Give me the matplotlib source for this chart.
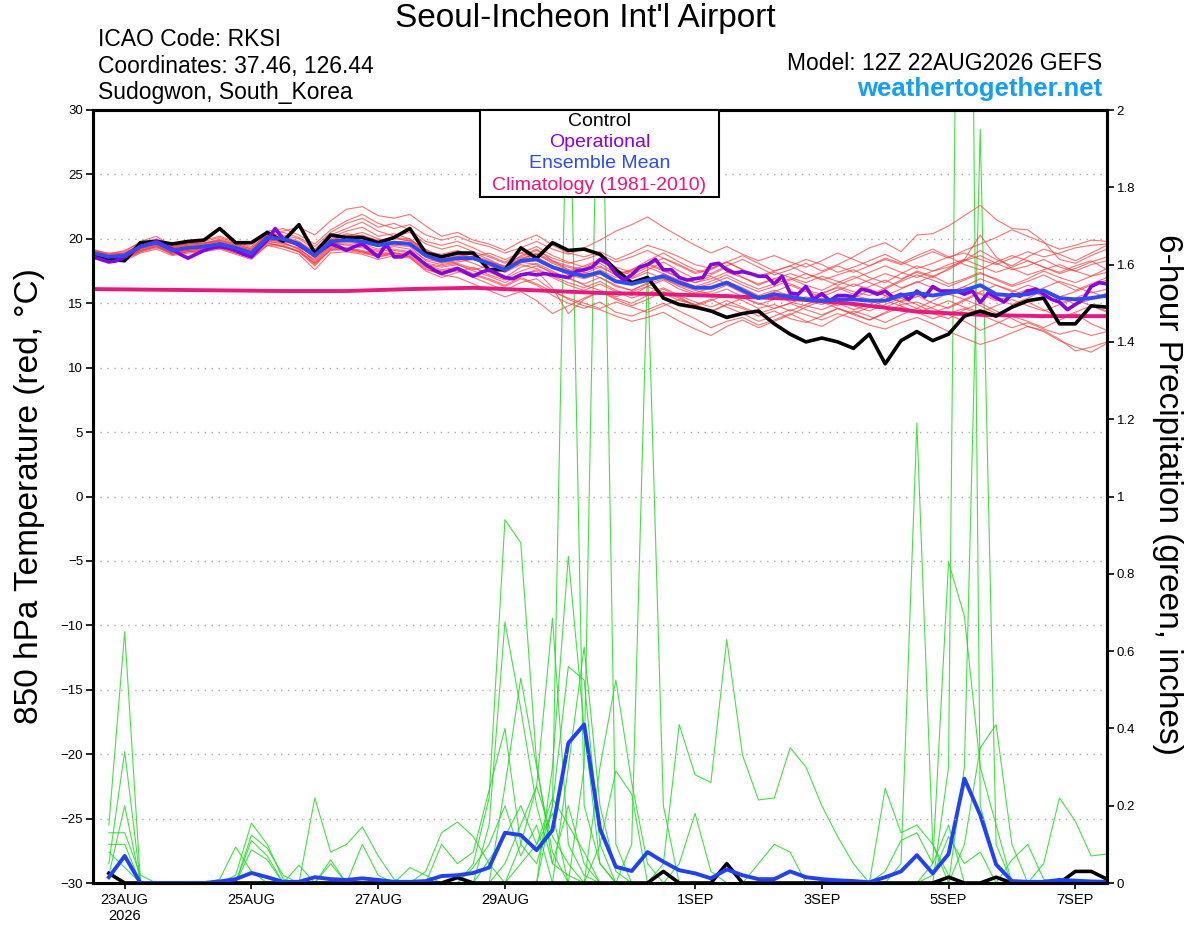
import numpy as np
import matplotlib
matplotlib.use('Agg')
import matplotlib.pyplot as plt
from matplotlib.patches import Rectangle

plt.rcParams['font.family'] = ['Liberation Sans', 'DejaVu Sans']

# time axes (hours after 12Z 22AUG2026)
temp_hours = np.arange(0, 385, 6)
oper_hours = np.arange(0, 385, 3)
precip_hours = np.arange(6, 385, 6)
clim_hours = np.arange(0, 385, 24)

tick_hours = [12, 60, 108, 156, 228, 276, 324, 372]
tick_labels = ['23AUG\n2026', '25AUG', '27AUG', '29AUG', '1SEP', '3SEP', '5SEP', '7SEP']

# 850 hPa temperature (C)
control_t = [18.7, 18.4, 18.3, 19.7, 19.8, 19.6, 19.8, 19.9, 20.8, 19.7, 19.7,
             20.5, 19.8, 21.1, 18.9, 20.3, 20.1, 20.1, 19.7, 20.1, 20.8, 18.9,
             18.6, 18.9, 18.9, 17.6, 17.6, 19.3, 18.5, 19.7, 19.1, 19.2, 18.8,
             17.6, 16.6, 17.0, 15.4, 14.9, 14.7, 14.4, 13.9, 14.2, 14.4, 13.4,
             12.6, 12.0, 12.3, 12.0, 11.5, 12.6, 10.3, 12.1, 12.8, 12.1, 12.6,
             14.0, 14.4, 14.0, 14.7, 15.2, 15.4, 13.4, 13.4, 14.8, 14.7]

mean_t = [18.9, 18.6, 18.7, 19.4, 19.7, 19.1, 19.3, 19.4, 19.6, 19.3, 18.9,
          20.1, 20.0, 19.6, 18.7, 19.8, 19.9, 19.8, 19.5, 19.7, 19.6, 18.7,
          18.3, 18.5, 18.5, 18.1, 17.6, 18.3, 18.4, 17.8, 17.4, 17.1, 17.4,
          16.7, 16.5, 16.8, 17.1, 16.6, 16.2, 16.2, 16.6, 16.0, 15.4, 15.7,
          15.5, 15.3, 15.2, 15.3, 15.3, 15.2, 15.2, 15.6, 15.8, 15.6, 15.8,
          16.0, 16.4, 15.7, 15.6, 15.7, 16.0, 15.4, 15.3, 15.4, 15.6]

oper_t = [18.6, 18.4, 18.2, 18.3, 18.6, 19.0, 19.4, 19.6, 19.8, 19.5, 19.2,
          18.8, 18.5, 18.8, 19.1, 19.3, 19.4, 19.3, 19.1, 18.8, 18.6, 19.3,
          19.9, 20.8, 20.0, 19.8, 19.5, 19.1, 18.7, 19.2, 19.6, 19.4, 19.1,
          19.4, 19.6, 19.1, 18.6, 19.6, 18.6, 18.6, 19.0, 18.5, 18.0, 17.6,
          17.3, 17.5, 17.7, 17.4, 17.1, 17.4, 17.6, 17.3, 17.0, 16.9, 17.2,
          17.3, 17.2, 17.3, 17.2, 17.1, 17.0, 17.5, 17.6, 17.8, 18.4, 18.1,
          17.3, 16.8, 17.2, 17.8, 18.0, 18.4, 17.6, 17.6, 17.0, 16.8, 16.9,
          17.0, 18.0, 18.1, 17.6, 17.35, 17.45, 17.3, 17.1, 17.1, 16.5, 17.1,
          15.8, 15.7, 16.3, 15.3, 15.75, 15.2, 15.6, 15.6, 15.5, 16.1, 15.95,
          15.7, 15.95, 15.45, 15.7, 15.3, 15.95, 15.5, 16.3, 15.95, 15.95, 15.95,
          15.7, 15.95, 15.05, 15.8, 15.45, 15.1, 15.7, 15.55, 15.95, 16.1, 15.7,
          15.3, 15.1, 14.5, 14.9, 15.3, 16.3, 16.6, 16.5]

clim_t = [16.1, 16.05, 16.0, 15.95, 15.95, 16.1, 16.2, 16.0, 15.8,
          15.7, 15.55, 15.35, 14.95, 14.35, 14.1, 14.0, 14.0]

members_t = [
    [19.0, 18.7, 18.9, 19.6, 19.9, 19.5, 19.6, 19.8, 20.1, 19.7, 19.3,
     20.4, 20.6, 20.9, 20.3, 21.4, 22.3, 22.5, 21.8, 21.6, 21.9, 21.0,
     20.2, 20.5, 19.9, 19.6, 19.1, 19.8, 20.3, 19.5, 18.9, 18.6, 19.0,
     18.4, 18.9, 19.5, 19.1, 18.6, 18.0, 17.7, 18.2, 17.6, 17.1, 17.5,
     17.9, 17.3, 16.8, 17.2, 17.6, 17.0, 16.6, 17.3, 17.9, 17.5, 17.8,
     18.3, 18.7, 18.1, 17.6, 17.9, 18.4, 17.8, 17.5, 18.0, 18.3],
    [18.7, 18.3, 18.5, 19.1, 19.5, 18.8, 19.0, 19.1, 19.3, 18.9, 18.6,
     19.7, 19.4, 19.0, 17.9, 19.2, 19.3, 19.0, 18.6, 18.9, 18.7, 17.8,
     17.5, 17.7, 17.2, 16.8, 16.3, 16.9, 16.4, 15.6, 15.0, 14.6, 15.1,
     14.3, 14.0, 14.5, 15.0, 14.4, 13.8, 13.1, 13.6, 13.9, 13.3, 13.7,
     14.2, 13.6, 13.2, 13.9, 14.4, 14.0, 13.5, 14.1, 14.6, 14.2, 13.8,
     14.5, 15.0, 14.4, 13.8, 13.2, 12.9, 12.2, 11.3, 11.6, 12.0],
    [19.1, 18.9, 19.0, 19.8, 20.2, 19.4, 19.7, 19.6, 20.0, 19.6, 19.2,
     20.5, 20.2, 19.8, 19.0, 20.1, 20.6, 20.9, 20.2, 20.4, 20.0, 19.0,
     18.8, 19.1, 18.7, 18.3, 17.8, 18.7, 19.2, 18.3, 17.9, 17.6, 18.1,
     17.3, 17.0, 17.6, 18.2, 17.5, 16.9, 17.2, 17.8, 17.0, 16.4, 16.9,
     16.5, 16.0, 15.7, 16.3, 15.9, 15.6, 16.2, 16.8, 17.5, 17.1, 17.6,
     18.3, 19.1, 18.4, 17.9, 18.6, 19.2, 18.8, 18.3, 18.9, 19.5],
    [18.8, 18.5, 18.6, 19.2, 19.6, 19.0, 19.1, 19.3, 19.4, 19.0, 18.7,
     19.8, 19.6, 19.3, 18.2, 19.4, 19.2, 19.0, 18.8, 18.9, 18.6, 17.5,
     17.0, 17.4, 17.8, 17.2, 16.8, 17.3, 17.5, 16.2, 14.2, 15.3, 15.9,
     15.4, 15.0, 15.6, 16.1, 15.5, 14.8, 14.3, 14.9, 14.6, 14.0, 14.4,
     13.8, 13.5, 14.0, 14.6, 14.2, 13.7, 14.3, 14.9, 15.1, 14.6, 14.1,
     13.6, 12.9, 13.4, 14.0, 13.6, 13.1, 13.7, 14.2, 13.4, 12.9],
    [18.9, 18.6, 18.8, 19.5, 19.8, 19.2, 19.4, 19.5, 19.7, 19.4, 19.0,
     20.2, 20.1, 19.7, 18.9, 19.9, 20.3, 20.1, 19.8, 20.0, 19.9, 18.9,
     18.4, 18.7, 18.6, 18.2, 17.9, 18.5, 18.8, 18.2, 17.8, 17.5, 17.9,
     17.2, 17.6, 18.3, 18.9, 18.2, 17.6, 17.3, 17.9, 18.4, 17.8, 17.2,
     17.6, 18.1, 17.5, 18.0, 18.6, 19.3, 19.7, 19.0, 20.3, 20.4, 21.0,
     21.8, 22.6, 21.5, 20.8, 20.7, 19.8, 18.4, 18.1, 18.7, 19.2],
    [18.6, 18.3, 18.4, 19.0, 19.3, 18.9, 19.1, 19.2, 19.5, 19.1, 18.7,
     19.9, 19.8, 19.5, 18.5, 19.6, 19.7, 19.6, 19.2, 19.5, 19.4, 18.3,
     18.0, 18.2, 18.4, 18.0, 17.4, 18.0, 17.7, 17.1, 16.6, 16.2, 16.7,
     16.0, 15.6, 16.3, 16.8, 16.1, 15.7, 15.9, 16.4, 15.8, 15.3, 15.8,
     15.1, 14.8, 14.5, 15.0, 15.6, 15.3, 14.7, 15.2, 15.6, 15.0, 14.6,
     15.2, 15.8, 15.3, 14.9, 15.4, 16.0, 15.5, 14.9, 15.3, 15.8],
    [19.2, 18.8, 19.1, 19.7, 20.0, 19.6, 19.8, 19.9, 20.2, 19.8, 19.4,
     20.6, 20.8, 20.3, 19.6, 20.7, 21.4, 21.9, 21.2, 20.8, 21.1, 20.3,
     19.9, 20.2, 19.7, 19.4, 18.9, 19.3, 19.8, 19.2, 18.8, 19.3, 19.9,
     20.6, 21.1, 21.7, 20.9, 20.2, 19.5, 18.9, 19.4, 18.8, 18.3, 18.7,
     18.2, 17.8, 18.3, 18.9, 18.4, 17.9, 18.5, 18.1, 18.7, 19.2, 18.6,
     18.0, 17.6, 18.2, 18.7, 18.3, 17.8, 17.4, 17.9, 18.3, 17.6],
    [18.5, 18.2, 18.3, 18.9, 19.2, 18.7, 18.9, 19.0, 19.2, 18.8, 18.4,
     19.5, 19.2, 18.8, 17.6, 18.9, 19.0, 18.8, 18.4, 18.7, 18.5, 17.6,
     17.3, 17.5, 17.0, 16.5, 16.0, 16.6, 16.9, 16.0, 15.3, 14.8, 14.5,
     14.0, 13.6, 13.9, 14.3, 13.6, 13.0, 12.5, 13.2, 13.7, 13.1, 13.6,
     14.1, 14.7, 15.2, 14.8, 15.4, 16.0, 15.6, 15.1, 15.5, 16.1, 15.7,
     15.3, 15.9, 16.4, 16.0, 15.6, 16.2, 16.7, 16.3, 15.8, 16.1],
    [19.0, 18.8, 18.9, 19.6, 19.9, 19.3, 19.5, 19.7, 19.8, 19.5, 19.1,
     20.3, 20.0, 19.6, 18.6, 19.8, 20.0, 19.7, 19.4, 19.8, 19.6, 18.6,
     18.1, 18.3, 18.6, 18.9, 18.4, 18.9, 18.5, 17.8, 17.2, 16.9, 17.3,
     16.6, 16.9, 17.4, 16.9, 16.3, 15.8, 16.2, 16.7, 16.2, 15.6, 16.0,
     15.6, 15.2, 14.9, 15.3, 14.8, 14.4, 14.9, 15.4, 14.9, 14.3, 14.7,
     15.3, 14.8, 14.2, 14.6, 15.1, 14.5, 13.9, 14.3, 14.8, 14.4],
    [18.8, 18.4, 18.6, 19.3, 19.6, 19.1, 19.3, 19.3, 19.5, 19.2, 18.8,
     19.9, 19.8, 19.5, 18.7, 19.7, 19.5, 19.3, 19.0, 19.2, 19.0, 18.1,
     17.9, 18.1, 17.7, 17.4, 16.9, 17.5, 17.9, 17.4, 17.0, 16.4, 16.0,
     15.5, 15.9, 16.3, 15.8, 15.2, 14.9, 15.3, 14.7, 14.2, 13.6, 14.0,
     14.5, 14.1, 13.7, 14.2, 13.8, 13.3, 13.0, 13.5, 13.9, 13.4, 12.8,
     12.3, 11.8, 12.2, 12.7, 13.2, 12.8, 12.1, 11.6, 11.2, 11.9],
    [18.9, 18.5, 18.7, 19.4, 19.7, 19.2, 19.3, 19.5, 19.6, 19.3, 18.9,
     20.1, 19.9, 19.6, 18.8, 19.9, 20.2, 20.5, 20.0, 19.7, 19.9, 19.2,
     18.6, 18.9, 18.4, 18.0, 17.5, 18.1, 18.6, 17.9, 17.5, 17.9, 18.4,
     17.8, 17.4, 17.9, 18.5, 18.0, 17.4, 17.7, 18.2, 17.6, 17.0, 17.4,
     17.0, 16.6, 17.1, 16.7, 16.3, 16.8, 17.3, 16.9, 17.4, 17.0, 17.7,
     18.4, 20.3, 18.6, 17.7, 17.2, 17.6, 18.0, 17.5, 17.1, 17.4],
    [18.7, 18.4, 18.5, 19.2, 19.5, 18.9, 19.2, 19.4, 19.6, 19.2, 18.8,
     19.8, 19.7, 19.2, 18.3, 19.5, 19.6, 19.4, 19.1, 19.4, 19.2, 18.4,
     18.2, 18.5, 18.1, 17.6, 17.0, 17.8, 18.1, 17.5, 16.9, 16.5, 17.0,
     16.3, 16.0, 16.5, 16.9, 16.4, 16.0, 15.7, 16.1, 15.5, 14.9, 15.3,
     15.7, 15.3, 15.8, 16.2, 15.7, 16.3, 16.8, 16.2, 16.6, 17.1, 16.5,
     16.9, 17.4, 16.8, 16.3, 16.7, 17.2, 16.6, 16.0, 16.5, 17.0],
    [19.0, 18.7, 18.8, 19.5, 19.8, 19.3, 19.6, 19.6, 19.9, 19.5, 19.1,
     20.3, 20.3, 20.0, 19.2, 20.3, 20.8, 21.3, 20.6, 20.2, 20.5, 19.6,
     19.2, 19.5, 19.0, 18.6, 18.1, 18.6, 19.1, 18.5, 18.1, 18.4, 18.8,
     18.2, 18.6, 19.1, 18.5, 17.9, 17.3, 17.6, 18.2, 18.7, 18.1, 17.5,
     17.9, 18.4, 18.0, 17.4, 17.8, 18.3, 18.8, 18.2, 17.7, 18.1, 18.6,
     18.9, 18.4, 18.0, 18.5, 19.0, 18.6, 18.9, 19.3, 19.5, 19.6],
    [18.6, 18.2, 18.4, 19.1, 19.4, 18.8, 19.0, 19.1, 19.3, 19.0, 18.6,
     19.6, 19.5, 19.0, 18.0, 19.2, 19.1, 18.9, 18.6, 18.8, 18.6, 17.7,
     17.2, 17.0, 16.5, 16.0, 15.5, 15.9, 15.2, 14.2, 14.8, 15.4, 15.9,
     15.3, 14.8, 15.3, 15.9, 15.4, 14.8, 15.2, 15.7, 15.2, 14.6, 14.9,
     14.4, 14.9, 15.4, 15.0, 14.5, 14.9, 15.5, 15.1, 14.6, 15.2, 15.8,
     16.3, 15.7, 15.2, 15.6, 16.1, 15.5, 15.0, 15.4, 15.9, 15.4],
    [18.8, 18.6, 18.7, 19.3, 19.6, 19.0, 19.2, 19.4, 19.7, 19.2, 18.8,
     20.0, 19.7, 19.2, 18.4, 19.5, 20.0, 20.3, 19.8, 20.1, 19.8, 18.9,
     18.5, 18.0, 17.6, 17.9, 17.4, 18.2, 18.0, 17.3, 16.9, 17.4, 17.0,
     16.4, 16.0, 16.6, 17.3, 16.8, 16.3, 16.7, 17.2, 16.6, 16.1, 16.5,
     16.9, 16.4, 16.0, 16.6, 17.1, 16.6, 16.1, 16.7, 17.2, 16.8, 16.3,
     16.8, 17.3, 16.9, 16.4, 16.9, 17.5, 17.0, 16.6, 17.1, 17.7],
    [19.1, 18.8, 18.9, 19.5, 19.8, 19.4, 19.6, 19.7, 19.9, 19.6, 19.2,
     20.4, 20.5, 20.1, 19.4, 20.5, 21.2, 21.6, 20.9, 21.2, 20.7, 19.8,
     19.5, 19.8, 19.3, 18.7, 18.2, 18.9, 19.4, 18.7, 18.2, 17.8, 18.3,
     17.6, 17.2, 17.8, 17.3, 16.7, 16.2, 16.5, 17.0, 16.4, 15.9, 16.3,
     16.8, 17.3, 16.9, 16.4, 16.9, 17.4, 17.9, 17.4, 17.0, 17.5, 18.0,
     18.4, 17.9, 17.4, 17.8, 18.3, 17.8, 17.3, 17.7, 18.2, 18.6],
    [18.7, 18.3, 18.5, 19.1, 19.4, 18.9, 19.1, 19.2, 19.4, 19.1, 18.7,
     19.7, 19.4, 19.1, 18.1, 19.3, 19.3, 19.1, 18.8, 19.1, 18.9, 18.0,
     17.6, 17.8, 17.3, 16.9, 16.4, 17.0, 16.5, 15.9, 15.4, 15.0, 14.6,
     15.1, 14.7, 14.3, 14.8, 15.3, 14.9, 14.4, 14.9, 15.4, 15.0, 14.6,
     15.0, 15.5, 15.1, 14.6, 14.2, 14.7, 15.2, 14.8, 14.3, 14.7, 15.2,
     14.7, 14.3, 14.8, 15.3, 14.8, 14.4, 14.9, 15.3, 14.8, 14.3],
    [18.9, 18.6, 18.7, 19.4, 19.8, 19.2, 19.4, 19.4, 19.6, 19.3, 18.9,
     20.0, 19.9, 19.6, 18.8, 19.8, 20.0, 19.8, 19.5, 19.7, 19.6, 18.8,
     18.4, 18.6, 18.9, 18.4, 17.8, 18.4, 18.9, 18.3, 17.6, 17.1, 17.6,
     17.0, 17.5, 18.1, 17.6, 17.0, 16.6, 17.1, 16.5, 15.9, 15.4, 15.9,
     16.4, 15.9, 15.5, 16.0, 16.5, 16.1, 15.6, 16.1, 16.7, 16.2, 15.8,
     16.3, 16.9, 16.4, 15.9, 16.4, 16.0, 15.5, 15.9, 16.4, 16.8],
    [18.6, 18.3, 18.4, 19.0, 19.4, 18.8, 19.0, 19.1, 19.3, 18.9, 18.5,
     19.5, 19.4, 19.0, 18.1, 19.1, 19.2, 19.0, 18.7, 18.9, 18.8, 18.0,
     17.8, 18.0, 17.5, 17.1, 16.6, 17.2, 17.6, 17.0, 16.4, 16.0, 16.5,
     15.9, 15.4, 15.8, 16.2, 15.6, 15.1, 14.7, 15.2, 14.7, 14.2, 14.6,
     15.0, 14.5, 14.1, 14.6, 14.1, 13.7, 14.2, 14.7, 14.3, 13.8, 14.2,
     14.6, 14.1, 13.6, 13.1, 13.5, 13.0, 12.6, 12.9, 12.5, 12.8],
    [19.0, 18.7, 18.8, 19.5, 19.7, 19.3, 19.5, 19.6, 19.8, 19.4, 19.0,
     20.2, 20.1, 19.7, 18.9, 20.0, 20.4, 20.2, 19.9, 20.1, 20.0, 19.1,
     18.7, 19.0, 18.5, 18.1, 17.6, 18.3, 18.8, 18.1, 17.6, 17.3, 17.8,
     17.2, 17.6, 18.0, 17.5, 17.0, 16.6, 16.9, 17.4, 17.0, 16.5, 16.9,
     17.3, 16.9, 17.4, 17.9, 17.4, 17.9, 18.4, 18.0, 18.5, 19.0, 18.5,
     19.1, 19.6, 20.1, 20.7, 20.2, 19.7, 19.2, 19.5, 19.9, 19.8],
]

# 6-hour precipitation (inches), hours 6..384
mean_p = [0.015, 0.07, 0, 0, 0, 0, 0, 0.004,
          0.01, 0.026, 0.015, 0.003, 0.003, 0.015, 0.01, 0.008,
          0.012, 0.008, 0.003, 0.003, 0.005, 0.018, 0.02, 0.026,
          0.04, 0.13, 0.124, 0.085, 0.137, 0.362, 0.41, 0.14,
          0.042, 0.031, 0.08, 0.055, 0.033, 0.025, 0.012, 0.035,
          0.02, 0.01, 0.01, 0.03, 0.015, 0.01, 0.007, 0.005,
          0.002, 0.015, 0.03, 0.072, 0.025, 0.075, 0.27, 0.176,
          0.048, 0.005, 0.003, 0.003, 0.008, 0.006, 0.004, 0.003]

control_p = [0.025, 0, 0, 0, 0, 0, 0, 0,
             0, 0, 0, 0, 0, 0, 0, 0,
             0, 0, 0, 0, 0, 0, 0.014, 0,
             0, 0, 0, 0, 0, 0, 0, 0,
             0, 0, 0, 0.03, 0, 0, 0, 0.05,
             0, 0, 0, 0, 0, 0, 0, 0,
             0, 0, 0, 0, 0, 0.015, 0, 0,
             0.015, 0, 0, 0, 0, 0.03, 0.03, 0.01]

members_p = [
    [0.15, 0.65, 0, 0, 0, 0, 0, 0, 0, 0, 0, 0, 0, 0, 0, 0,
     0, 0, 0, 0, 0, 0, 0, 0.05, 0.22, 0.94, 0.88, 0.31, 0.05, 0.02, 0, 0,
     0, 0, 0, 0, 0, 0, 0, 0, 0, 0, 0, 0, 0, 0, 0, 0,
     0, 0, 0, 0, 0, 0.3, 4.5, 0.2, 0.05, 0, 0, 0, 0, 0, 0, 0],
    [0.05, 0.34, 0, 0, 0, 0, 0, 0, 0, 0, 0, 0, 0, 0, 0.05, 0,
     0, 0, 0, 0, 0, 0, 0, 0, 0.15, 0.675, 0.45, 0.2, 0.05, 0.2, 0.05, 0,
     0, 0, 0, 0, 0, 0, 0, 0, 0, 0, 0, 0, 0, 0, 0, 0,
     0, 0, 0, 0, 0, 0, 0.3, 1.95, 0.1, 0, 0, 0, 0, 0, 0, 0],
    [0.13, 0.13, 0.02, 0, 0, 0, 0, 0, 0, 0.11, 0.07, 0, 0, 0, 0, 0,
     0, 0, 0, 0, 0, 0, 0, 0, 0, 0.25, 0.53, 0.3, 0.08, 0, 0, 0,
     0, 0, 0, 0, 0, 0, 0, 0, 0, 0, 0, 0, 0, 0, 0, 0,
     0, 0, 0, 0, 0.05, 0.83, 0.69, 0.3, 0.15, 0, 0, 0, 0, 0, 0, 0],
    [0.10, 0.10, 0, 0, 0, 0, 0, 0, 0, 0, 0, 0, 0, 0.22, 0.08, 0.10,
     0.145, 0.07, 0.01, 0, 0, 0, 0, 0, 0, 0, 0.1, 0.25, 0.685, 0.1, 0.02, 0,
     0, 0, 0, 0, 0, 0, 0, 0, 0, 0, 0, 0, 0, 0, 0, 0,
     0, 0, 0, 0, 0, 0, 0.1, 0.35, 0.41, 0.1, 0, 0, 0, 0, 0, 0],
    [0.02, 0.2, 0, 0, 0, 0, 0, 0, 0, 0, 0, 0, 0, 0, 0, 0,
     0, 0, 0, 0, 0.03, 0.13, 0.158, 0.12, 0.05, 0, 0, 0, 0.3, 0.845, 0.4, 0.05,
     0, 0, 0, 0, 0, 0, 0, 0, 0, 0, 0, 0, 0, 0, 0, 0,
     0, 0, 0, 0, 0.02, 0.12, 0.05, 0.08, 0, 0, 0, 0, 0, 0, 0, 0],
    [0.08, 0.04, 0, 0, 0, 0, 0, 0, 0, 0, 0, 0, 0, 0, 0, 0,
     0, 0, 0, 0, 0, 0.1, 0.05, 0.08, 0.24, 0.4, 0.1, 0.05, 0.2, 0.56, 0.525, 0.1,
     0, 0, 0, 0, 0, 0, 0, 0, 0, 0, 0, 0, 0, 0, 0, 0,
     0, 0, 0, 0, 0, 0, 0, 0, 0, 0, 0, 0.05, 0.22, 0.16, 0.07, 0.075],
    [0, 0, 0, 0, 0, 0, 0, 0.01, 0.093, 0.03, 0, 0, 0, 0, 0, 0,
     0, 0, 0, 0, 0, 0, 0, 0, 0, 0, 0, 0, 0, 0.3, 0.61, 0.2,
     0.03, 0, 0, 0, 0, 0, 0, 0, 0, 0, 0, 0, 0, 0, 0, 0,
     0, 0, 0, 0, 0, 0, 0, 0, 0, 0.06, 0.1, 0.01, 0, 0, 0, 0],
    [0, 0, 0, 0, 0, 0, 0, 0, 0.02, 0.155, 0.10, 0.01, 0, 0, 0, 0,
     0, 0, 0, 0, 0, 0, 0, 0, 0, 0, 0, 0, 0.2, 2.3, 0.2, 0.05,
     0, 0, 0, 0, 0, 0, 0, 0, 0, 0, 0, 0, 0, 0, 0, 0,
     0, 0, 0, 0, 0, 0, 0, 0, 0, 0, 0, 0, 0, 0, 0, 0],
    [0, 0, 0, 0, 0, 0, 0, 0, 0, 0.124, 0.09, 0.02, 0, 0, 0, 0,
     0, 0, 0, 0, 0, 0, 0, 0, 0, 0, 0, 0, 0, 0, 0.3, 2.5,
     0.1, 0, 0, 0, 0, 0, 0, 0, 0, 0, 0, 0, 0, 0, 0, 0,
     0, 0, 0, 0, 0, 0, 0, 0, 0, 0, 0, 0, 0, 0, 0, 0],
    [0, 0, 0, 0, 0, 0, 0, 0, 0, 0.086, 0.06, 0, 0, 0, 0, 0,
     0, 0, 0, 0, 0, 0, 0, 0, 0, 0, 0, 0, 0, 0, 0, 0.3,
     0.525, 0.26, 0.05, 0, 0, 0, 0, 0, 0, 0, 0, 0, 0, 0, 0, 0,
     0, 0, 0, 0, 0, 0, 0, 0, 0, 0, 0, 0, 0, 0, 0, 0],
    [0, 0, 0, 0, 0, 0, 0, 0, 0, 0, 0, 0, 0.046, 0, 0, 0,
     0, 0, 0, 0, 0, 0, 0, 0, 0, 0, 0, 0, 0, 0, 0, 0.1,
     0.29, 0.23, 0, 0, 0, 0, 0, 0, 0, 0, 0, 0, 0, 0, 0, 0,
     0, 0, 0, 0, 0, 0, 0, 0, 0, 0, 0, 0, 0, 0, 0, 0],
    [0, 0, 0, 0, 0, 0, 0, 0, 0, 0, 0, 0, 0, 0, 0.06, 0,
     0.10, 0.02, 0, 0, 0, 0, 0, 0, 0, 0, 0, 0, 0, 0, 0, 0,
     0, 0.1, 1.6, 0.2, 0, 0, 0, 0, 0, 0, 0, 0, 0, 0, 0, 0,
     0, 0, 0, 0, 0, 0, 0, 0, 0, 0, 0, 0, 0, 0, 0, 0],
    [0, 0, 0, 0, 0, 0, 0, 0, 0, 0, 0, 0, 0, 0, 0, 0,
     0, 0, 0, 0.04, 0.02, 0, 0, 0, 0, 0, 0, 0, 0, 0, 0, 0,
     0, 0, 0, 0.05, 0.41, 0.28, 0.26, 0.63, 0.33, 0.215, 0.22, 0.35, 0.30, 0.2, 0.12, 0.05,
     0, 0, 0, 0, 0, 0, 0, 0, 0, 0, 0, 0, 0, 0, 0, 0],
    [0, 0, 0, 0, 0, 0, 0, 0, 0, 0, 0, 0, 0, 0, 0, 0,
     0, 0, 0, 0, 0, 0, 0, 0.04, 0.1, 0.2, 0.07, 0.15, 0, 0, 0, 0,
     0, 0, 0, 0, 0.05, 0.18, 0.03, 0, 0, 0.05, 0.1, 0.08, 0, 0, 0, 0,
     0, 0, 0, 0, 0, 0, 0, 0, 0, 0, 0, 0, 0, 0, 0, 0],
    [0, 0, 0, 0, 0, 0, 0, 0, 0, 0, 0, 0, 0, 0, 0, 0,
     0, 0, 0, 0, 0, 0, 0, 0, 0.06, 0.12, 0.2, 0.1, 0.18, 0, 0, 0,
     0, 0, 0, 0, 0, 0, 0, 0, 0, 0, 0, 0, 0, 0, 0, 0,
     0, 0.245, 0.13, 0.15, 0.1, 0.02, 0, 0, 0, 0, 0, 0, 0, 0, 0, 0],
    [0, 0, 0, 0, 0, 0, 0, 0, 0, 0, 0, 0, 0, 0, 0, 0,
     0, 0, 0, 0, 0, 0, 0, 0, 0, 0.05, 0.15, 0.25, 0.12, 0.05, 0, 0,
     0, 0, 0, 0, 0, 0, 0, 0, 0, 0, 0, 0, 0, 0, 0, 0,
     0, 0, 0.05, 1.19, 0.1, 0, 0, 0, 0, 0, 0, 0, 0, 0, 0, 0],
    [0, 0, 0, 0, 0, 0, 0, 0, 0, 0, 0, 0, 0, 0, 0, 0,
     0, 0, 0, 0, 0, 0, 0, 0, 0, 0, 0.05, 0.1, 0.22, 0.15, 0.08, 0,
     0, 0, 0, 0, 0, 0, 0, 0, 0, 0, 0, 0, 0, 0, 0, 0,
     0, 0.03, 0.11, 0.13, 0.05, 0.15, 0, 0, 0, 0, 0, 0, 0, 0, 0, 0],
]

fig = plt.figure(figsize=(12, 9.27), dpi=100)
ax = fig.add_axes([93 / 1200, 1 - 883 / 927, 1014 / 1200, 773 / 927])
ax2 = ax.twinx()
ax.set_zorder(ax2.get_zorder() + 1)
ax.patch.set_visible(False)

# precipitation (right axis)
for m in members_p:
    ax2.plot(precip_hours, m, color='#22dd22', lw=0.8, alpha=0.85)
ax2.plot(precip_hours, control_p, color='black', lw=2.6)
ax2.plot(precip_hours, mean_p, color='#2040ff', lw=2.8)
ax2.set_ylim(0, 2)
ax2.set_yticks(np.arange(0, 2.01, 0.2))
ax2.set_yticklabels(['%g' % v for v in np.arange(0, 2.01, 0.2).round(1)])

# temperature (left axis)
for m in members_t:
    ax.plot(temp_hours, m, color='#ff3c3c', lw=0.8, alpha=0.72)
ax.plot(clim_hours, clim_t, color='#f0147f', lw=2.8)
ax.plot(temp_hours, control_t, color='black', lw=2.6)
ax.plot(oper_hours, oper_t, color='#8a00e6', lw=2.6)
ax.plot(temp_hours, mean_t, color='#2a4bff', lw=2.8)

ax.set_xlim(0, 384)
ax.set_ylim(-30, 30)
ax.set_yticks(range(-30, 31, 5))
ax.set_xticks(tick_hours)
ax.set_xticklabels(tick_labels)
ax.grid(axis='y', color='#aaaaaa', linestyle=(0, (1, 4)), lw=1)

for a in (ax, ax2):
    for s in a.spines.values():
        s.set_linewidth(2.2)
ax.tick_params(axis='y', direction='out', length=5, width=1.2, labelsize=9.5, pad=2)
ax.tick_params(axis='x', direction='out', length=4, width=1.2, labelsize=10.5, pad=3)
ax2.tick_params(axis='y', direction='out', length=5, width=1.2, labelsize=9.5, pad=2)

# legend box
ax.add_patch(Rectangle((0.3817, 0.8875), 0.2357, 0.1125, transform=ax.transAxes,
                       facecolor='white', edgecolor='black', lw=1.5, zorder=10,
                       clip_on=False))
leg_items = [('Control', 'black'), ('Operational', '#8a00e6'),
             ('Ensemble Mean', '#2a4bff'), ('Climatology (1981-2010)', '#f0147f')]
for k, (txt, col) in enumerate(leg_items):
    ax.text(0.4995, 0.9857 - k * 0.0276, txt, color=col, fontsize=14,
            ha='center', va='center', transform=ax.transAxes, zorder=11)

# header texts
fig.text(585 / 1200, 1 - 18 / 927, "Seoul-Incheon Int'l Airport", fontsize=24,
         ha='center', va='center')
fig.text(98 / 1200, 1 - 40 / 927, 'ICAO Code: RKSI', fontsize=16.5, va='center')
fig.text(98 / 1200, 1 - 66 / 927, 'Coordinates: 37.46, 126.44', fontsize=16.5, va='center')
fig.text(98 / 1200, 1 - 93 / 927, 'Sudogwon, South_Korea', fontsize=16.5, va='center')
fig.text(1102 / 1200, 1 - 63 / 927, 'Model: 12Z 22AUG2026 GEFS', fontsize=16.5,
         ha='right', va='center')
fig.text(1102 / 1200, 1 - 89 / 927, 'weathertogether.net', fontsize=18.5,
         fontweight='bold', color='#11a0f5', ha='right', va='center')

fig.text(30 / 1200, 1 - 496 / 927, '850 hPa Temperature (red, \u00b0C)', fontsize=24,
         rotation=90, ha='center', va='center')
fig.text(1167 / 1200, 1 - 495 / 927, '6-hour Precipitation (green, inches)', fontsize=24,
         rotation=270, ha='center', va='center')

fig.savefig('out.png', dpi=100)
